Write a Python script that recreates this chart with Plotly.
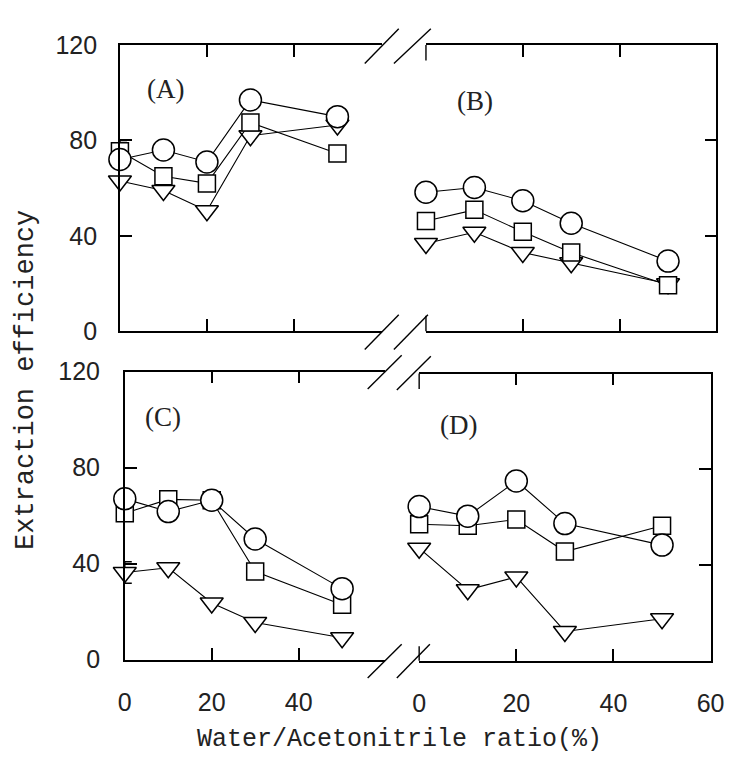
import plotly.graph_objects as go

W, H = 738, 762

# ---------------- data ----------------
ratio = [0, 10, 20, 30, 50]

A_circle = [72, 76, 71, 97, 90]
A_square = [75.5, 65, 62, 87.5, 74.5]
A_tri = [63, 59, 50.5, 82, 86.5]

B_circle = [58.3, 60.3, 54.7, 45.3, 29.4]
B_square = [46.2, 50.9, 41.7, 33, 19.3]
B_tri = [36.8, 41.5, 33, 28.7, 19.9]

C_circle = [67, 61.7, 66.4, 50.3, 29.6]
C_square = [61, 66.8, 66.4, 36.7, 22.9]
C_tri = [36.3, 38.3, 23.6, 15.5, 9.1]

D_circle = [64.4, 60.4, 75.1, 57.3, 48.3]
D_square = [57, 56.4, 59, 45.6, 56.4]
D_tri = [47, 29.6, 35, 12.2, 17.5]

A_square_err = [4.5, None, None, None, None]
C_tri_err = [4.5, None, None, None, None]

y_ticks = [0, 40, 80, 120]
y_ticktext = ["0", "40", "80", "120"]
x_ticks_left = [0, 20, 40]
x_ticks_right = [0, 20, 40, 60]
panel_labels = ["(A)", "(B)", "(C)", "(D)"]
x_title = "Water/Acetonitrile ratio(%)"
y_title = "Extraction efficiency"

# ---------------- helpers ----------------
def px(x):
    return x / W

def py(y):
    return 1 - y / H

TICKFONT = dict(family="Liberation Sans, Arial, sans-serif", size=25, color="#222")
SERIF = "Liberation Serif, Times New Roman, serif"
MONO = "Liberation Mono, Courier New, monospace"

fig = go.Figure()

panels = [
    ("x", "y", A_circle, A_square, A_tri, A_square_err, None),
    ("x2", "y2", B_circle, B_square, B_tri, None, None),
    ("x3", "y3", C_circle, C_square, C_tri, None, C_tri_err),
    ("x4", "y4", D_circle, D_square, D_tri, None, None),
]

mk_line = dict(color="black", width=1.5)
for xa, ya, circ, sq, tri, sq_err, tri_err in panels:
    fig.add_trace(go.Scatter(
        x=ratio, y=tri, xaxis=xa, yaxis=ya, mode="lines+markers",
        line=dict(color="black", width=1.1),
        marker=dict(symbol="triangle-down", size=20, color="white", line=mk_line),
        error_y=(dict(type="data", array=tri_err, visible=True, color="black",
                      thickness=1.5, width=7) if tri_err else None),
        cliponaxis=False, showlegend=False))
    fig.add_trace(go.Scatter(
        x=ratio, y=sq, xaxis=xa, yaxis=ya, mode="lines+markers",
        line=dict(color="black", width=1.1),
        marker=dict(symbol="square", size=17, color="white", line=mk_line),
        error_y=(dict(type="data", array=sq_err, visible=True, color="black",
                      thickness=1.5, width=7) if sq_err else None),
        cliponaxis=False, showlegend=False))
    fig.add_trace(go.Scatter(
        x=ratio, y=circ, xaxis=xa, yaxis=ya, mode="lines+markers",
        line=dict(color="black", width=1.1),
        marker=dict(symbol="circle", size=22, color="white", line=mk_line),
        cliponaxis=False, showlegend=False))

axis_common = dict(showgrid=False, zeroline=False, showline=True, linecolor="black",
                   linewidth=1.5, ticks="inside", ticklen=12, tickwidth=1.5,
                   tickcolor="black", tickfont=TICKFONT)

layout = dict(
    width=W, height=H,
    margin=dict(l=0, r=0, t=0, b=0),
    paper_bgcolor="white", plot_bgcolor="white",
    showlegend=False,
)

# Panel A
layout["xaxis"] = dict(axis_common, domain=[px(108), px(378)], range=[0, 60.3],
                       anchor="y", tickvals=[20, 40], showticklabels=False, mirror="ticks")
layout["yaxis"] = dict(axis_common, domain=[py(321), py(24)], range=[0, 120], anchor="x",
                       tickvals=y_ticks, ticktext=y_ticktext, ticklabelstandoff=16)
# Panel B
layout["xaxis2"] = dict(axis_common, domain=[px(423), px(722)], range=[0, 60],
                        anchor="y2", tickvals=[20, 40], showticklabels=False, mirror="ticks")
layout["yaxis2"] = dict(axis_common, domain=[py(321), py(24)], range=[0, 120], anchor="x2",
                        side="right", tickvals=[40, 80], showticklabels=False)
# Panel C
layout["xaxis3"] = dict(axis_common, domain=[px(113), px(381)], range=[0, 59.9],
                        anchor="y3", tickvals=x_ticks_left, mirror="ticks", ticklabelstandoff=20)
layout["yaxis3"] = dict(axis_common, domain=[py(662), py(363)], range=[0, 120], anchor="x3",
                        tickvals=y_ticks, ticktext=y_ticktext, ticklabelstandoff=18)
# Panel D
layout["xaxis4"] = dict(axis_common, domain=[px(416), px(716)], range=[0, 60],
                        anchor="y4", tickvals=x_ticks_right, mirror="ticks", ticklabelstandoff=20)
layout["yaxis4"] = dict(axis_common, domain=[py(663), py(365)], range=[0, 120], anchor="x4",
                        side="right", tickvals=[40, 80], showticklabels=False)

fig.update_layout(**layout)

# panel labels
label_pos = [(155, 70), (473, 82), (152, 410), (457, 418)]
for txt, (lx, ly) in zip(panel_labels, label_pos):
    fig.add_annotation(text=txt, x=px(lx), y=py(ly), xref="paper", yref="paper",
                       xanchor="center", yanchor="middle",
                       showarrow=False, font=dict(family=SERIF, size=27, color="#222"))

# axis titles
fig.add_annotation(text=x_title, x=px(396), y=py(745), xref="paper", yref="paper",
                   xanchor="center", yanchor="middle",
                   showarrow=False, font=dict(family=MONO, size=25, color="#222"))
fig.add_annotation(text=y_title, x=px(12), y=py(372), xref="paper", yref="paper",
                   xanchor="center", yanchor="middle",
                   showarrow=False, textangle=-90, font=dict(family=MONO, size=27, color="#222"))

# axis-break marks and short spine stubs
segs = [
    (360, 43, 395, 7), (390, 43, 428, 7),
    (360, 340, 395, 304), (390, 340, 425, 304),
    (363, 381, 398, 346), (393, 382, 428, 347),
    (363, 681, 398, 646), (393, 681, 427, 646),
    (423, 24, 423, 40), (423, 305, 423, 321),
    (416, 365, 416, 381), (416, 648, 416, 663),
]
for x0, y0, x1, y1 in segs:
    fig.add_shape(type="line", xref="paper", yref="paper",
                  x0=px(x0), y0=py(y0), x1=px(x1), y1=py(y1),
                  line=dict(color="black", width=1.4))

fig.write_html("out.html")
